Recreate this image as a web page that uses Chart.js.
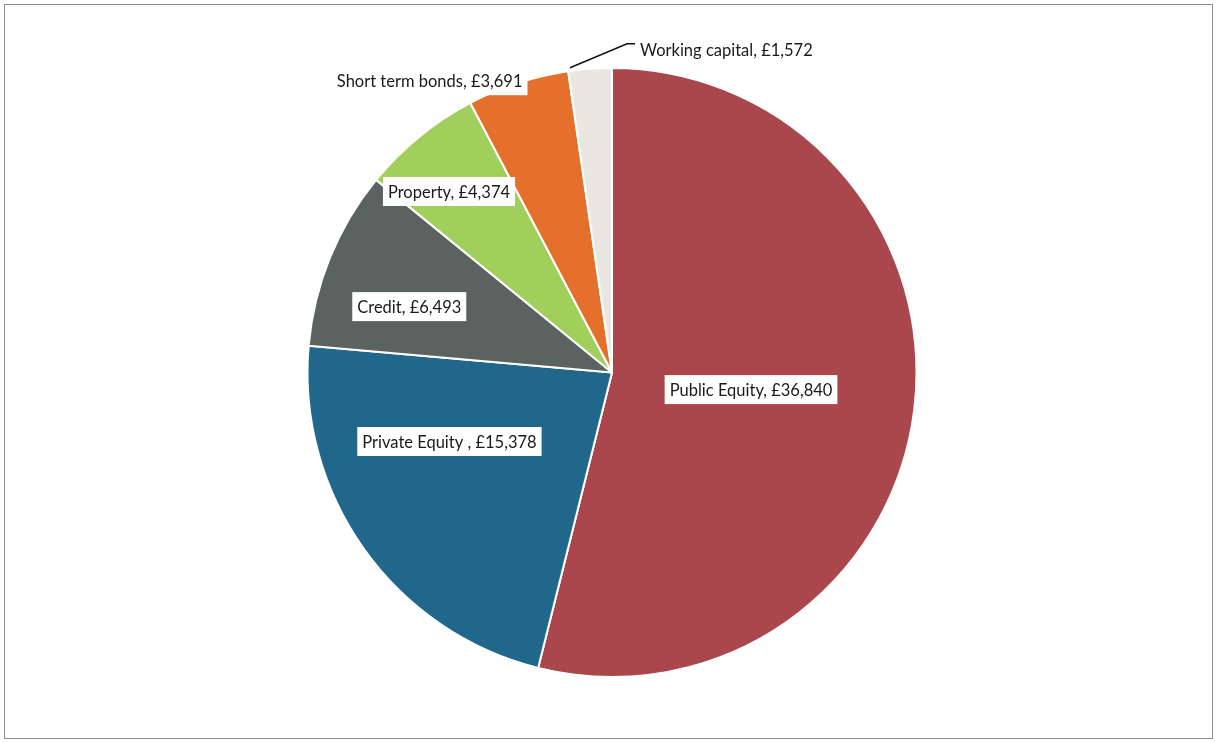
<!DOCTYPE html>
<html>
<head>
<meta charset="utf-8">
<script src="https://cdn.jsdelivr.net/npm/chart.js@4.4.1/dist/chart.umd.min.js"></script>
<style>
  body { margin: 0; background: #fff; }
  #wrap { position: relative; width: 1216px; height: 742px; }
  #frame { position: absolute; left: 4px; top: 4px; width: 1209px; height: 735px; border: 1px solid #8a8f8f; box-sizing: border-box; pointer-events: none; }
</style>
</head>
<body>
<div id="wrap">
  <canvas id="pie-chart" width="1216" height="742"></canvas>
  <div id="frame"></div>
</div>
<script>
const categories = ['Public Equity', 'Private Equity ', 'Credit', 'Property', 'Short term bonds', 'Working capital'];
const values = [36840, 15378, 6493, 4374, 3691, 1572];
const colours = ['#a9474d', '#21678c', '#5b6361', '#a1cf5b', '#e5702c', '#e9e7e1'];

// label placement: angle (deg clockwise from top) and distance as fraction of radius
const labelAngle = [97, 247, 288, 318, 328, 0];
const labelDist = [0.46, 0.58, 0.70, 0.80, 1.13, 1.0];

const fmt = v => '\u00a3' + v.toLocaleString('en-GB');

const labelPlugin = {
  id: 'boxLabels',
  afterDatasetsDraw(chart) {
    const ctx = chart.ctx;
    const meta = chart.getDatasetMeta(0);
    const arc0 = meta.data[0];
    const cx = arc0.x, cy = arc0.y, r = arc0.outerRadius;
    ctx.save();
    ctx.font = '16.5px Lato, "Open Sans", sans-serif';
    ctx.textBaseline = 'middle';
    meta.data.forEach((arc, i) => {
      const text = categories[i] + ', ' + fmt(values[i]);
      const w = ctx.measureText(text).width;
      if (i === 5) {
        // leader line for the thin slice
        const mid = (arc.startAngle + arc.endAngle) / 2;
        const sx = cx + Math.cos(mid) * r - 20;
        const sy = cy + Math.sin(mid) * r - 1;
        const ex = sx + 57, ey = sy - 24;
        ctx.strokeStyle = '#111';
        ctx.lineWidth = 1.5;
        ctx.beginPath();
        ctx.moveTo(sx, sy);
        ctx.lineTo(ex, ey);
        ctx.lineTo(ex + 8, ey);
        ctx.stroke();
        ctx.fillStyle = '#1a1a1a';
        ctx.textAlign = 'left';
        ctx.fillText(text, ex + 13, ey + 7);
        return;
      }
      const a = labelAngle[i] * Math.PI / 180;
      const lx = cx + Math.sin(a) * r * labelDist[i];
      const ly = cy - Math.cos(a) * r * labelDist[i];
      ctx.fillStyle = '#fff';
      ctx.fillRect(lx - w / 2 - 5, ly - 14.5, w + 10, 29);
      ctx.fillStyle = '#1a1a1a';
      ctx.textAlign = 'center';
      ctx.fillText(text, lx, ly + 1);
    });
    ctx.restore();
  }
};

const pieCtx = document.getElementById('pie-chart').getContext('2d');
new Chart(pieCtx, {
  type: 'pie',
  data: {
    labels: categories,
    datasets: [{
      data: values,
      backgroundColor: colours,
      borderColor: '#fff',
      borderWidth: 2
    }]
  },
  options: {
    responsive: false,
    animation: false,
    layout: { padding: { top: 67, bottom: 64, left: 8, right: 0 } },
    plugins: {
      legend: { display: false },
      tooltip: { enabled: false }
    }
  },
  plugins: [labelPlugin]
});
</script>
</body>
</html>
